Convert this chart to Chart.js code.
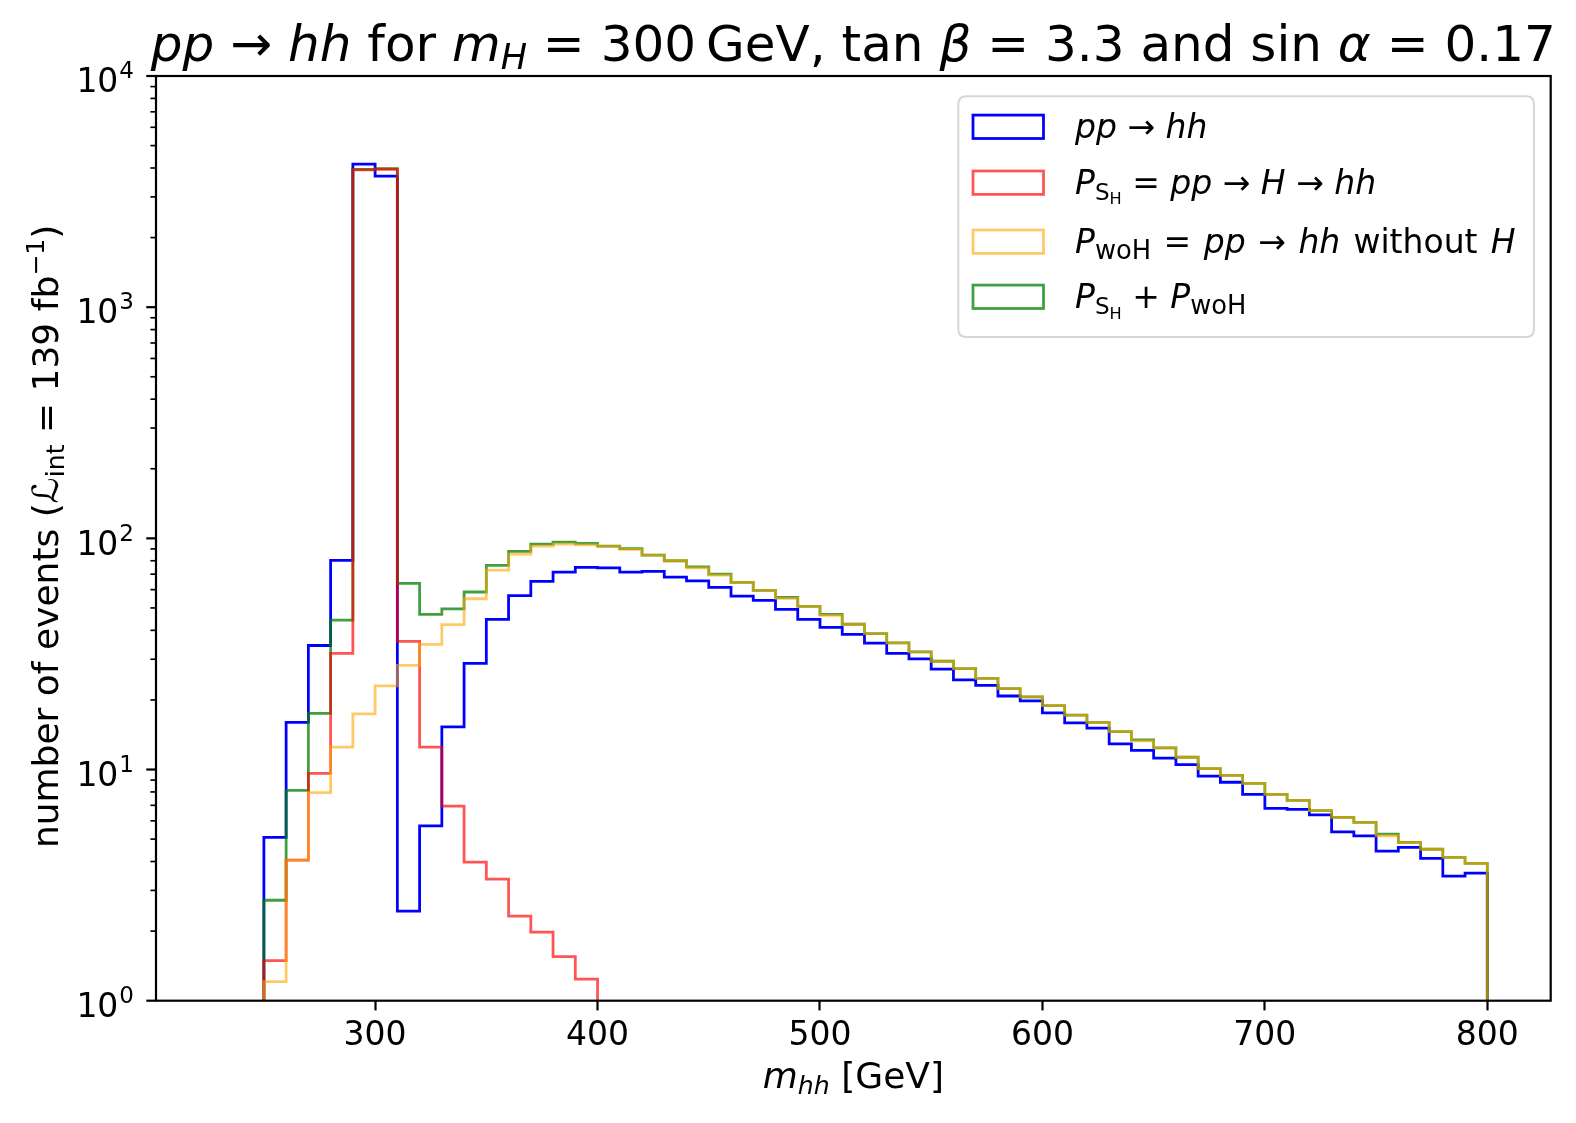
<!DOCTYPE html>
<html>
<head>
<meta charset="utf-8">
<script src="https://cdn.jsdelivr.net/npm/chart.js@4.4.1/dist/chart.umd.min.js"></script>
<style>
html,body{margin:0;padding:0;background:#fff;}
#wrap{width:1576px;height:1123px;position:relative;}
</style>
</head>
<body>
<div id="wrap"><canvas id="c"></canvas></div>
<script>
// ---- data (bin edges in GeV, events per 10 GeV bin) ----
const binEdges = [250,260,270,280,290,300,310,320,330,340,350,360,370,380,390,400,410,420,430,440,450,460,470,480,490,500,510,520,530,540,550,560,570,580,590,600,610,620,630,640,650,660,670,680,690,700,710,720,730,740,750,760,770,780,790,800];
const ppHH = [5.09,16.0,34.4,80.3,4155,3687,2.44,5.70,15.3,28.8,44.6,56.5,65.2,71.5,74.9,
  74.6,71.5,72.0,68.0,65.4,61.4,56.3,53.9,49.3,44.6,
  41.2,38.4,35.2,31.8,30.1,27.2,24.4,23.1,20.8,19.8,
  17.6,15.9,15.1,12.9,12.1,11.2,10.5,9.37,8.81,7.81,
  6.79,6.73,6.36,5.37,5.16,4.44,4.61,4.13,3.46,3.56];
const pSH = [1.49,4.06,9.63,31.8,3930,3950,35.8,12.5,6.95,3.98,3.36,2.32,1.98,1.55,1.24,
  0,0,0,0,0,0,0,0,0,0,
  0,0,0,0,0,0,0,0,0,0,
  0,0,0,0,0,0,0,0,0,0,
  0,0,0,0,0,0,0,0,0,0];
const pWoH = [1.21,4.06,7.94,12.5,17.4,23.0,28.2,34.8,42.3,54.8,72.9,85.5,92.6,94.5,93.8,
  92.3,89.6,84.7,80.0,74.6,69.4,64.5,59.6,55.0,50.8,
  46.4,42.5,38.7,35.3,32.3,29.4,27.3,24.8,22.4,20.6,
  18.9,17.2,16.0,14.6,13.3,12.4,11.3,10.1,9.44,8.72,
  7.81,7.36,6.64,6.21,5.91,5.17,4.84,4.52,4.17,3.93];
const pSum = [2.72,8.13,17.5,44.3,3947,3973,63.9,46.9,49.5,58.6,76.4,87.9,94.5,96.4,95.1,
  92.6,90.3,84.7,80.0,75.3,70.0,64.5,59.6,55.5,50.8,
  46.9,42.5,38.7,35.3,32.3,29.4,27.3,24.8,22.4,20.6,
  18.9,17.2,16.0,14.6,13.45,12.4,11.3,10.1,9.44,8.72,
  7.81,7.36,6.64,6.21,5.91,5.25,4.84,4.52,4.17,3.93];
const xTickValues = [300,400,500,600,700,800];
const yMajorExponents = [0,1,2,3,4];
const yMinorMultipliers = [2,3,4,5,6,7,8,9];

const FLOOR = 1e-3; // below the axis: hidden outline base
const FONT = '"DejaVu Sans", "Liberation Sans", sans-serif';

function stepPoints(values){
  const pts = [{x: binEdges[0], y: FLOOR}];
  for (let i = 0; i < values.length; i++){
    const v = values[i] > 0 ? values[i] : FLOOR;
    pts.push({x: binEdges[i], y: v});
    pts.push({x: binEdges[i+1], y: v});
  }
  pts.push({x: binEdges[binEdges.length-1], y: FLOOR});
  return pts;
}

function fontStr(size, it){ return (it ? 'italic ' : '') + size + 'px ' + FONT; }
function segWidth(ctx, s, base){
  if (s.g !== undefined) return s.g * base;
  ctx.font = fontStr(base*(s.s||1), s.it);
  return ctx.measureText(s.t).width;
}
function drawRich(ctx, segs, x, y, base, align){
  let w = 0;
  for (const s of segs) w += segWidth(ctx, s, base);
  let cx = align === 'center' ? x - w/2 : (align === 'right' ? x - w : x);
  ctx.textBaseline = 'alphabetic'; ctx.textAlign = 'left';
  for (const s of segs){
    const sw = segWidth(ctx, s, base);
    if (s.g === undefined){
      ctx.font = fontStr(base*(s.s||1), s.it);
      ctx.fillText(s.t, cx, y + (s.dy||0)*base);
    }
    cx += sw;
  }
  return w;
}

const COLORS = {
  blue: 'rgb(0,0,255)',
  red: 'rgba(255,0,0,0.67)',
  orange: 'rgba(255,165,0,0.6)',
  green: 'rgba(0,128,0,0.75)'
};

const titleSegs = [
  {t:'pp', it:true},{t:' \u2192 '},{t:'hh', it:true},{t:' for '},{t:'m', it:true},{t:'H', it:true, s:0.7, dy:0.16},
  {t:' = 300\u2009GeV, tan '},{t:'\u03b2', it:true},{t:' = 3.3 and sin '},{t:'\u03b1', it:true},{t:' = 0.17'}
];
const xLabelSegs = [{t:'m', it:true},{t:'hh', it:true, s:0.7, dy:0.16},{t:' [GeV]'}];
const yLabelSegs = [{t:'number of events ('},{t:'\u2112'},{t:'int', s:0.7, dy:0.16},{t:' = 139 fb'},{t:'\u22121', s:0.7, dy:-0.38},{t:')'}];
const legendEntries = [
  {color: COLORS.blue, segs: [{t:'pp', it:true},{t:' \u2192 '},{t:'hh', it:true}]},
  {color: COLORS.red, segs: [{t:'P', it:true},{t:'S', s:0.7, dy:0.17},{t:'H', s:0.49, dy:0.32},{t:' = '},{t:'pp', it:true},{t:' \u2192 '},{t:'H', it:true},{t:' \u2192 '},{t:'hh', it:true}]},
  {color: COLORS.orange, segs: [{t:'P', it:true},{t:'woH', s:0.78, dy:0.17},{g:0.38},{t:'='},{g:0.38},{t:'pp', it:true},{g:0.38},{t:'\u2192'},{g:0.38},{t:'hh', it:true},{g:0.4},{t:'without'},{g:0.4},{t:'H', it:true}]},
  {color: COLORS.green, segs: [{t:'P', it:true},{t:'S', s:0.7, dy:0.17},{t:'H', s:0.49, dy:0.32},{t:' + '},{t:'P', it:true},{t:'woH', s:0.78, dy:0.17}]}
];
const legendCenters = [126.8, 182.7, 241.7, 296.8];

function roundRect(ctx, x, y, w, h, r){
  ctx.beginPath();
  ctx.moveTo(x+r, y); ctx.lineTo(x+w-r, y); ctx.quadraticCurveTo(x+w, y, x+w, y+r);
  ctx.lineTo(x+w, y+h-r); ctx.quadraticCurveTo(x+w, y+h, x+w-r, y+h);
  ctx.lineTo(x+r, y+h); ctx.quadraticCurveTo(x, y+h, x, y+h-r);
  ctx.lineTo(x, y+r); ctx.quadraticCurveTo(x, y, x+r, y);
  ctx.closePath();
}

const decor = {
  id: 'decor',
  afterDraw(chart){
    const ctx = chart.ctx, a = chart.chartArea, ys = chart.scales.y;
    ctx.save();
    // frame (spines)
    ctx.strokeStyle = '#000'; ctx.lineWidth = 2.2; ctx.lineJoin = 'miter';
    ctx.strokeRect(a.left, a.top, a.right - a.left, a.bottom - a.top);
    // y ticks
    ctx.lineCap = 'butt';
    for (const e of yMajorExponents){
      const py = ys.getPixelForValue(Math.pow(10, e));
      ctx.lineWidth = 2.2;
      ctx.beginPath(); ctx.moveTo(a.left, py); ctx.lineTo(a.left - 9.7, py); ctx.stroke();
      if (e < yMajorExponents[yMajorExponents.length-1]){
        for (const m of yMinorMultipliers){
          const pm = ys.getPixelForValue(m*Math.pow(10, e));
          ctx.lineWidth = 1.67;
          ctx.beginPath(); ctx.moveTo(a.left, pm); ctx.lineTo(a.left - 5.6, pm); ctx.stroke();
        }
      }
      // label 10^e
      ctx.fillStyle = '#000'; ctx.textBaseline = 'alphabetic'; ctx.textAlign = 'right';
      const rx = a.left - 22;
      ctx.font = fontStr(23, false);
      const ew = ctx.measureText(String(e)).width;
      ctx.fillText(String(e), rx, py + 2.3);
      ctx.font = fontStr(33, false);
      ctx.fillText('10', rx - ew - 1, py + 16.3);
    }
    ctx.fillStyle = '#000';
    // title
    drawRich(ctx, titleSegs, (a.left + a.right)/2, 61, 50, 'center');
    // x label
    drawRich(ctx, xLabelSegs, (a.left + a.right)/2, 1088, 36, 'center');
    // y label (rotated)
    ctx.save();
    ctx.translate(58, (a.top + a.bottom)/2 - 2);
    ctx.rotate(-Math.PI/2);
    drawRich(ctx, yLabelSegs, 0, 0, 36, 'center');
    ctx.restore();
    // legend
    ctx.fillStyle = 'rgba(255,255,255,0.8)';
    roundRect(ctx, 958.3, 96.3, 1534 - 958.3, 337 - 96.3, 8);
    ctx.fill();
    ctx.strokeStyle = 'rgba(204,204,204,0.8)'; ctx.lineWidth = 2;
    ctx.stroke();
    legendEntries.forEach((en, i) => {
      const cy = legendCenters[i];
      ctx.strokeStyle = en.color; ctx.lineWidth = 2.78; ctx.lineJoin = 'miter';
      ctx.strokeRect(973, cy - 11.7, 70.5, 23.4);
      ctx.fillStyle = '#000';
      drawRich(ctx, en.segs, 1075, cy + 11.2, 33, 'left');
    });
    ctx.restore();
  }
};

const ctx = document.getElementById('c').getContext('2d');
new Chart(ctx, {
  type: 'line',
  data: {
    datasets: [
      {label: 'pp \u2192 hh', data: stepPoints(ppHH), borderColor: COLORS.blue, order: 4},
      {label: 'P_SH + P_woH', data: stepPoints(pSum), borderColor: COLORS.green, order: 3},
      {label: 'P_SH = pp \u2192 H \u2192 hh', data: stepPoints(pSH), borderColor: COLORS.red, order: 2},
      {label: 'P_woH = pp \u2192 hh without H', data: stepPoints(pWoH), borderColor: COLORS.orange, order: 1}
    ]
  },
  options: {
    responsive: true,
    maintainAspectRatio: false,
    animation: false,
    events: [],
    layout: {padding: {left: 156, right: 25.3, top: 76, bottom: 59.6}},
    elements: {
      point: {radius: 0, hoverRadius: 0},
      line: {borderWidth: 2.78, tension: 0, fill: false, borderJoinStyle: 'miter', borderCapStyle: 'butt'}
    },
    plugins: {legend: {display: false}, tooltip: {enabled: false}, title: {display: false}},
    scales: {
      x: {
        type: 'linear', min: 201.5, max: 828.5,
        afterBuildTicks: (axis) => { axis.ticks = xTickValues.map(v => ({value: v})); },
        ticks: {font: {family: FONT, size: 33}, color: '#000', padding: 6.7, maxRotation: 0, minRotation: 0, autoSkip: false,
                callback: (v) => String(v)},
        grid: {display: true, drawOnChartArea: false, drawTicks: true, tickLength: 9.7, tickWidth: 2.2, tickColor: '#000'},
        border: {display: false}
      },
      y: {
        type: 'logarithmic', min: 1, max: 10000,
        ticks: {display: false},
        grid: {display: false, drawTicks: false},
        border: {display: false}
      }
    }
  },
  plugins: [decor]
});
</script>
</body>
</html>
